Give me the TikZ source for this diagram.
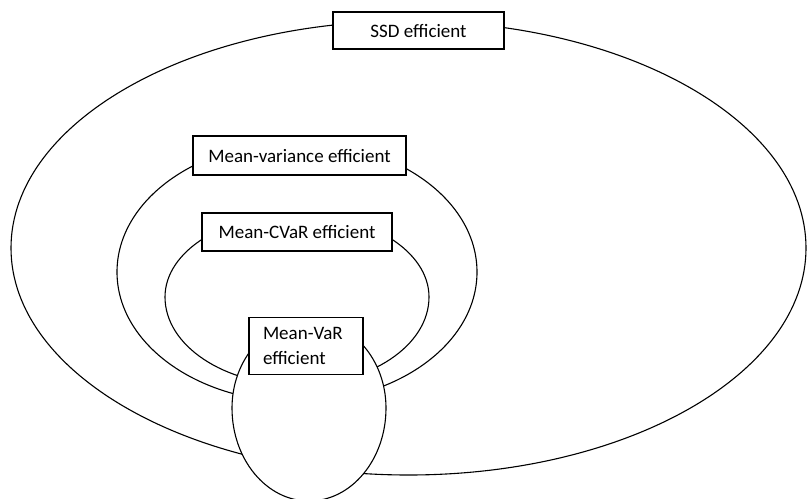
\documentclass[tikz,border=0pt]{standalone}
\usepackage{fontspec}
\setmainfont{Carlito}
\usepackage{tikz}

\tikzset{
  setline/.style={line width=1.1pt},
  labelbox/.style={draw, line width=1.1pt, fill=white, inner sep=0pt,
    font=\fontsize{19}{25}\selectfont}
}

\begin{document}
\begin{tikzpicture}[x=1pt, y=-1pt]
\useasboundingbox (0,0) rectangle (808,498);

% sets, outermost first (tops hide under the labels)
\draw[setline] (408.5,248) ellipse [x radius=397.5, y radius=227];
\draw[setline] (297,272) ellipse [x radius=180, y radius=130];
\draw[setline] (165,297) arc[start angle=180, end angle=360, x radius=132, y radius=83]
  arc[start angle=0, end angle=180, x radius=132, y radius=88] -- cycle;
\draw[setline, fill=white] (232,408) arc[start angle=180, end angle=360, x radius=77, y radius=88]
  arc[start angle=0, end angle=180, x radius=77, y radius=93] -- cycle;

\path (418.5,30.5) node[labelbox, minimum width=171pt, minimum height=37pt] (ssd) {SSD efficient}
      (299.5,155.5) node[labelbox, minimum width=213pt, minimum height=39pt] (mv) {Mean-variance efficient}
      (297,232) node[labelbox, minimum width=190pt, minimum height=38pt] (cvar) {Mean-CVaR efficient}
      (306,346) node[labelbox, text width=86pt, inner xsep=14pt, align=left, minimum height=57pt] (var) {Mean-VaR\\efficient};
\end{tikzpicture}
\end{document}
